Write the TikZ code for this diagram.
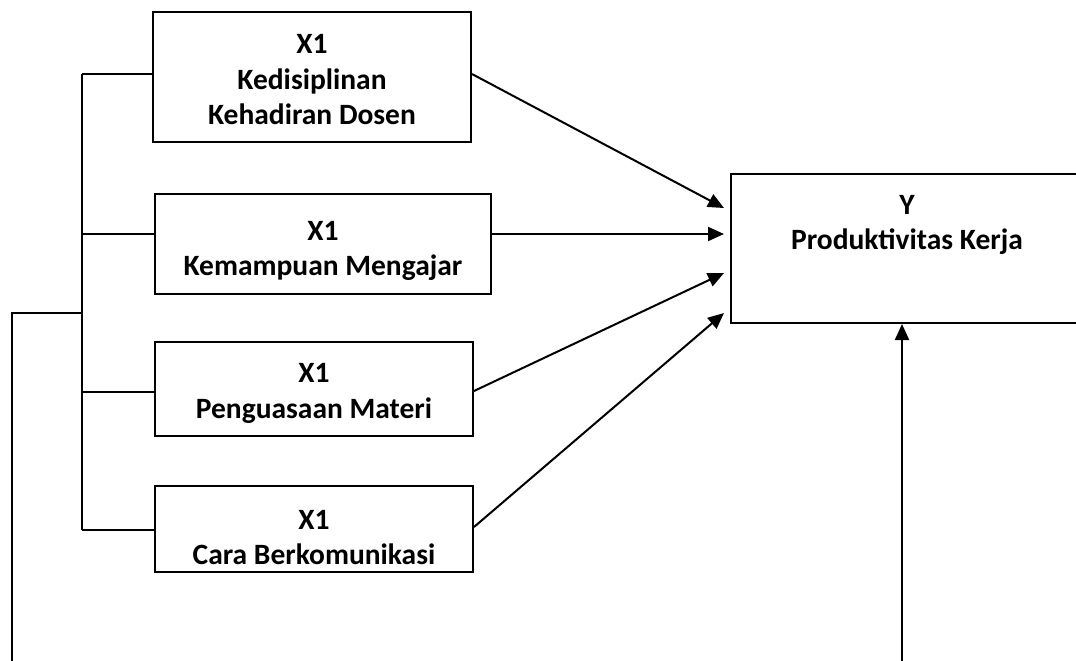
\documentclass[tikz,border=0pt]{standalone}
\usepackage{fontspec}
\setmainfont{Carlito}
\usetikzlibrary{positioning, arrows.meta}

\begin{document}
\begin{tikzpicture}[x=1pt, y=-1pt, line width=2pt,
  kotak/.style={draw, rectangle, inner sep=0pt},
  teks/.style={align=center, inner sep=0pt,
    font=\fontsize{29.5}{35.5}\selectfont\bfseries},
  tip/.style={-{Triangle[length=16pt, width=14pt]}}]
\useasboundingbox (0,0) rectangle (1076,661);

% variabel X
\node[kotak, minimum width=318pt, minimum height=130pt] (disiplin) at (312,77) {};
\node[teks, yshift=-3pt] (disiplin-t) at (disiplin) {X1\\Kedisiplinan\\Kehadiran Dosen};

\node[kotak, minimum width=336pt, minimum height=100pt] (mengajar) at (323,244) {};
\node[teks, yshift=-7pt] (mengajar-t) at (mengajar) {X1\\Kemampuan Mengajar};

\node[kotak, minimum width=318pt, minimum height=94pt] (materi) at (314,389) {};
\node[teks, yshift=-4.5pt] (materi-t) at (materi) {X1\\Penguasaan Materi};

\node[kotak, minimum width=318pt, minimum height=86pt] (komunikasi) at (314,529) {};
\node[teks, yshift=-8.5pt] (komunikasi-t) at (komunikasi) {X1\\Cara Berkomunikasi};

% variabel Y
\node[kotak, minimum width=352pt, minimum height=149pt] (produktif) at (907,248.5) {};
\node[teks] (produktif-t) at (907,225) {Y\\Produktivitas Kerja};

% garis kiri
\coordinate (b1) at (82,74);
\coordinate (b2) at (82,234);
\coordinate (b3) at (82,392);
\coordinate (b4) at (82,530);
\coordinate (bm) at (82,313);
\coordinate (kiri) at (12,313);
\coordinate (kiribawah) at (12,665);
\draw (b1) -- (b4);
\draw (b1) -- (b1 -| disiplin.west);
\draw (b2) -- (b2 -| mengajar.west);
\draw (b3) -- (b3 -| materi.west);
\draw (b4) -- (b4 -| komunikasi.west);
\draw (kiribawah) -- (kiri) -- (bm);

% panah ke Y
\coordinate (t1) at (724,208);
\coordinate (t2) at (724,234);
\coordinate (t3) at (724,273);
\coordinate (t4) at (724,313);
\draw[tip] (disiplin.east |- b1) -- (t1);
\draw[tip] (mengajar.east |- b2) -- (t2);
\draw[tip] (materi.east |- 0,391) -- (t3);
\draw[tip] (komunikasi.east |- 0,527) -- (t4);

\coordinate (bawah) at (902,665);
\draw[tip] (bawah) -- (bawah |- produktif.south);
\end{tikzpicture}
\end{document}
